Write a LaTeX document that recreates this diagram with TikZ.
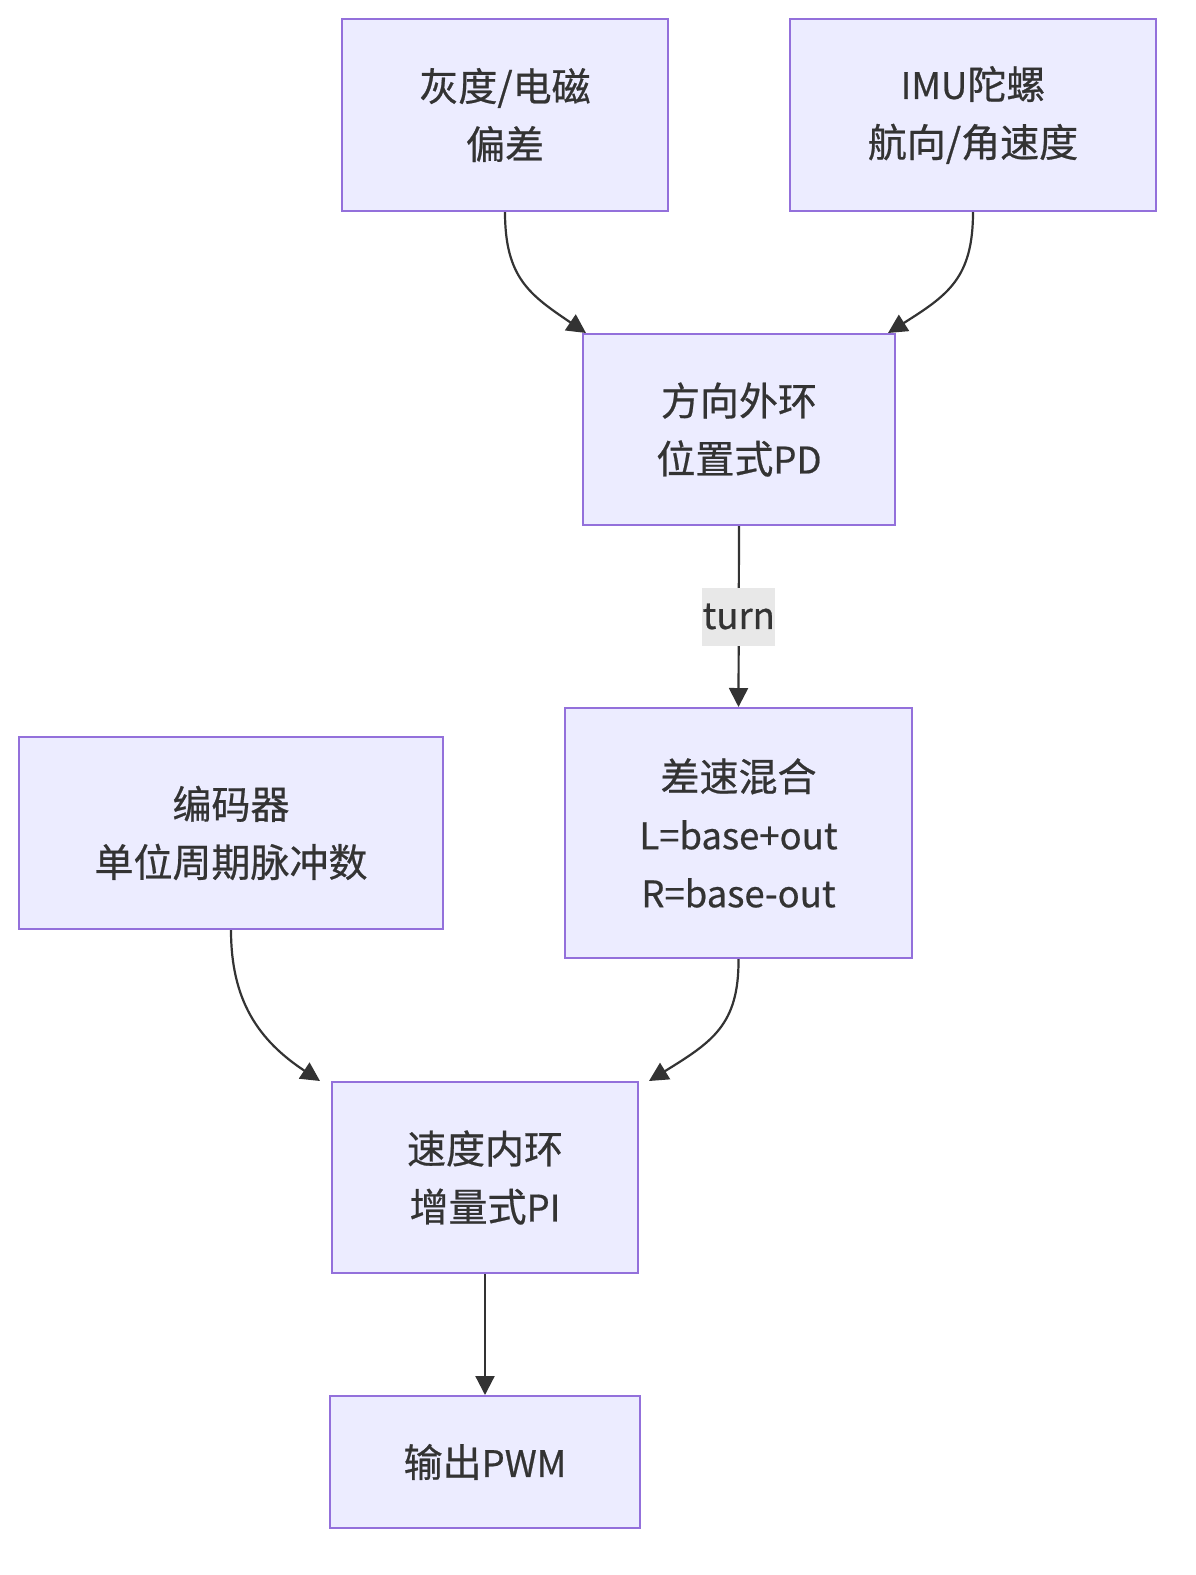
\documentclass[tikz,border=0pt]{standalone}
\usepackage{fontspec}
\setmainfont{Noto Sans CJK SC}[FakeBold=0.6]
\usetikzlibrary{arrows.meta}
\definecolor{nodefill}{HTML}{ECECFF}
\definecolor{nodeborder}{HTML}{9370DB}
\definecolor{ink}{HTML}{333333}
\definecolor{lblbg}{HTML}{E8E8E8}
\newcommand{\lat}[1]{{\fontsize{36.5}{58}\selectfont #1}}
\tikzset{
  box/.style={draw=nodeborder, fill=nodefill, line width=2pt, align=center,
    text=ink, inner sep=0pt, font=\fontsize{39}{58}\selectfont},
  conn/.style={draw=ink, line width=2.2pt, -{Triangle[length=19pt,width=19pt]}},
  lbl/.style={fill=lblbg, text=ink, inner sep=0pt, minimum width=73pt,
    minimum height=58pt, font=\fontsize{36.5}{42}\selectfont}
}
\begin{document}
\begin{tikzpicture}[x=1pt,y=-1pt]
\useasboundingbox (0,0) rectangle (1195,1575);
\node[box, minimum width=326pt, minimum height=192pt] (A) at (505,115) {灰度/电磁\\偏差};
\node[box, minimum width=366pt, minimum height=192pt] (B) at (973,115) {\lat{IMU}陀螺\\航向/角速度};
\node[box, minimum width=312pt, minimum height=191pt] (C) at (739,429.5) {方向外环\\位置式\lat{PD}};
\node[box, minimum width=347pt, minimum height=250pt] (D) at (738.5,833) {差速混合\\\lat{L=base+out}\\\lat{R=base-out}};
\node[box, minimum width=424pt, minimum height=192pt] (E) at (231,833) {编码器\\单位周期脉冲数};
\node[box, minimum width=306pt, minimum height=191pt] (F) at (485,1177.5) {速度内环\\增量式\lat{PI}};
\node[box, minimum width=310pt, minimum height=132pt] (G) at (485,1462) {输出\lat{PWM}};

\coordinate (AC) at ([xshift=4pt]C.north west);
\coordinate (BC) at ([xshift=-8pt]C.north east);
\coordinate (EF) at ([xshift=-11pt]F.north west);
\coordinate (DF) at ([xshift=10pt]F.north east);

\draw[conn] (A.south) .. controls (505,278) and (530,295) .. (AC);
\draw[conn] (B.south) .. controls (973,278) and (948,295) .. (BC);
\draw[conn] (C.south) -- node[lbl] (T) {turn} (D.north);
\draw[conn] (E.south) .. controls (231,1000) and (258,1040) .. (EF);
\draw[conn] (D.south) .. controls (739,1025) and (712,1042) .. (DF);
\draw[conn] (F.south) -- (G.north);
\end{tikzpicture}
\end{document}
